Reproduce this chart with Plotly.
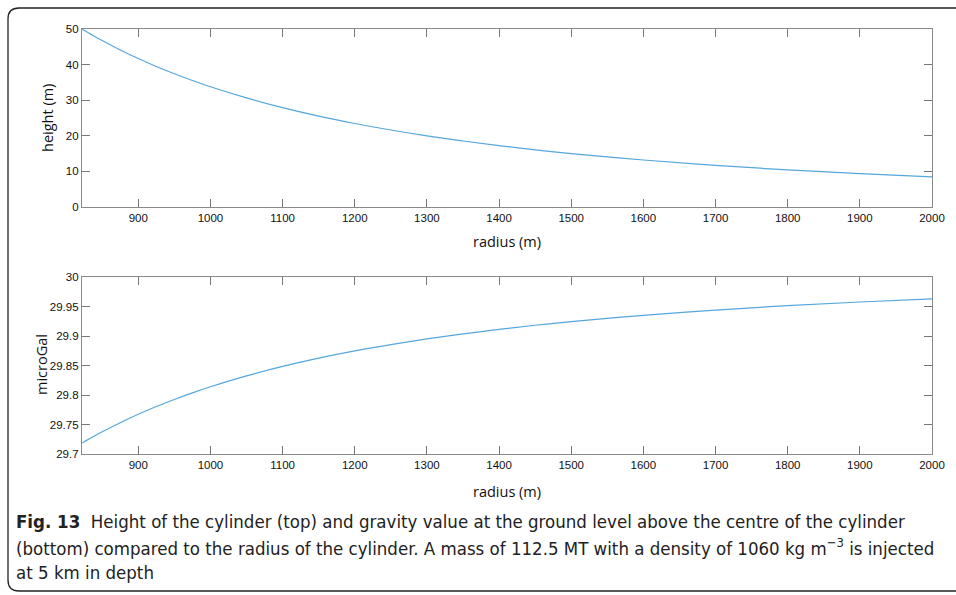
import plotly.graph_objects as go

# values
radius_m = [822, 836, 850, 875, 900, 925, 950, 975, 1000, 1050, 1100, 1150, 1200,
            1250, 1300, 1350, 1400, 1450, 1500, 1600, 1700, 1800, 1900, 2000]
height_m = [50.0, 48.34, 46.76, 44.12, 41.71, 39.48, 37.43, 35.54, 33.78, 30.64,
            27.92, 25.54, 23.46, 21.62, 19.99, 18.54, 17.24, 16.07, 15.01, 13.20,
            11.69, 10.43, 9.36, 8.45]
gravity_ugal = [29.7185, 29.7283, 29.7376, 29.7531, 29.7673, 29.7804, 29.7924, 29.8036,
                29.8139, 29.8324, 29.8484, 29.8624, 29.8747, 29.8855, 29.8951, 29.9036,
                29.9113, 29.9182, 29.9244, 29.9351, 29.9439, 29.9514, 29.9576, 29.9630]

x_ticks = [900, 1000, 1100, 1200, 1300, 1400, 1500, 1600, 1700, 1800, 1900, 2000]
top_y_ticks = [0, 10, 20, 30, 40, 50]
bot_y_ticks = [29.7, 29.75, 29.8, 29.85, 29.9, 29.95, 30]
bot_y_labels = ["29.7", "29.75", "29.8", "29.85", "29.9", "29.95", "30"]

W, H = 956, 595
LINE = "#55A7DD"
AX = "#8a8a8a"
TICKFONT = dict(family="Liberation Sans, Arial, sans-serif", size=11.5, color="#111")
TITLEFONT = dict(family="Open Sans, sans-serif", size=14.5, color="#111")
CAPFONT = dict(family="DejaVu Sans Condensed, Open Sans, sans-serif", size=18.5, color="#222")

def px(x):
    return x / W

def py(y):
    return 1 - y / H

fig = go.Figure()
fig.add_trace(go.Scatter(x=radius_m, y=height_m, mode="lines", line_shape="spline",
                         line=dict(color=LINE, width=1.2), xaxis="x", yaxis="y",
                         showlegend=False))
fig.add_trace(go.Scatter(x=radius_m, y=gravity_ugal, mode="lines", line_shape="spline",
                         line=dict(color=LINE, width=1.2), xaxis="x2", yaxis="y2",
                         showlegend=False))

axis_common = dict(showline=True, linecolor=AX, linewidth=1.2, mirror="ticks",
                   ticks="inside", ticklen=8, tickcolor="#777", tickwidth=1.2,
                   showgrid=False, zeroline=False, tickfont=TICKFONT,
                   automargin=False)

fig.update_layout(
    width=W, height=H,
    margin=dict(l=0, r=0, t=0, b=0),
    paper_bgcolor="white", plot_bgcolor="white",
    xaxis=dict(domain=[px(82), px(932)], range=[radius_m[0], 2000],
               tickvals=x_ticks, anchor="y", **axis_common),
    yaxis=dict(domain=[py(207), py(29)], range=[0, 50], tickvals=top_y_ticks,
               anchor="x", **axis_common),
    xaxis2=dict(domain=[px(82), px(932)], range=[radius_m[0], 2000],
                tickvals=x_ticks, anchor="y2", **axis_common),
    yaxis2=dict(domain=[py(454), py(277)], range=[29.7, 30], tickvals=bot_y_ticks,
                ticktext=bot_y_labels, anchor="x2", **axis_common),
)

# rounded frame around the figure
r = 11
x0, y0, x1, y1 = 8, 8, 975, 591
path = (f"M {px(x0)},{py(y0 + r)} Q {px(x0)},{py(y0)} {px(x0 + r)},{py(y0)} "
        f"L {px(x1)},{py(y0)} L {px(x1)},{py(y1)} L {px(x0 + r)},{py(y1)} "
        f"Q {px(x0)},{py(y1)} {px(x0)},{py(y1 - r)} Z")
fig.add_shape(type="path", path=path, xref="paper", yref="paper",
              line=dict(color="#222", width=1.3), fillcolor="rgba(0,0,0,0)", layer="below")

annos = [
    dict(text="height (m)", x=px(48), y=py(118), textangle=-90, font=TITLEFONT),
    dict(text="radius (m)", x=px(507), y=py(241), font=TITLEFONT),
    dict(text="microGal", x=px(41), y=py(365), textangle=-90, font=TITLEFONT),
    dict(text="radius (m)", x=px(507), y=py(491), font=TITLEFONT),
]
for a in annos:
    fig.add_annotation(xref="paper", yref="paper", showarrow=False,
                       xanchor="center", yanchor="middle", **a)

caption = [
    "<b>Fig. 13</b>  Height of the cylinder (top) and gravity value at the ground level above the centre of the cylinder",
    "(bottom) compared to the radius of the cylinder. A mass of 112.5 MT with a density of 1060 kg m<sup>−3</sup> is injected",
    "at 5 km in depth",
]
for i, line in enumerate(caption):
    fig.add_annotation(xref="paper", yref="paper", showarrow=False,
                       x=px(14), y=py(521 + 25.5 * i), xanchor="left", yanchor="middle",
                       text=line, font=CAPFONT, align="left")

fig.write_html("out.html", config={"displayModeBar": False},
               post_script="document.body.style.margin='0';document.body.style.overflow='hidden';")
